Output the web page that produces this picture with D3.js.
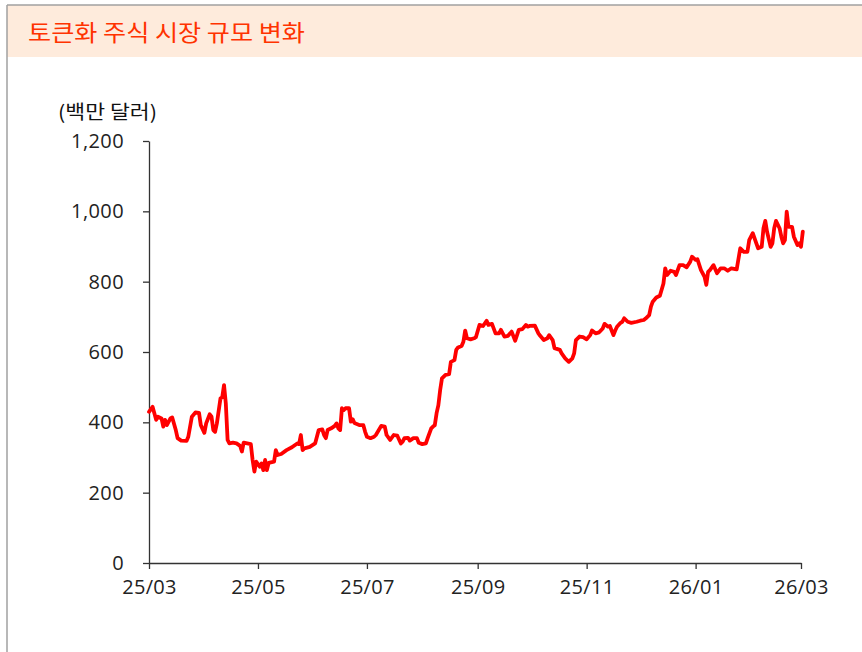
<!DOCTYPE html>
<html><head><meta charset="utf-8">
<script src="https://cdn.jsdelivr.net/npm/d3@7"></script>
<style>
html,body{margin:0;padding:0;background:#fff;}
svg{display:block;}
</style></head>
<body>
<svg id="chart" width="862" height="652"></svg>
<script>
const title = "토큰화 주식 시장 규모 변화";
const unitLabel = "(백만 달러)";
const yTicks = [0, 200, 400, 600, 800, 1000, 1200];
const xTickDates = ["2025-03-01","2025-05-01","2025-07-01","2025-09-01","2025-11-01","2026-01-01","2026-03-01"];
const dates = [
"2025-03-01","2025-03-03","2025-03-04","2025-03-05","2025-03-06","2025-03-08","2025-03-09","2025-03-10","2025-03-11","2025-03-13",
"2025-03-14","2025-03-16","2025-03-17","2025-03-19","2025-03-22","2025-03-23","2025-03-25","2025-03-27","2025-03-29","2025-03-30",
"2025-04-01","2025-04-02","2025-04-04","2025-04-05","2025-04-06","2025-04-07","2025-04-08","2025-04-10","2025-04-11","2025-04-12",
"2025-04-13","2025-04-14","2025-04-15","2025-04-17","2025-04-19","2025-04-21","2025-04-22","2025-04-23","2025-04-25","2025-04-27",
"2025-04-28","2025-04-29","2025-04-30","2025-05-02","2025-05-03","2025-05-04","2025-05-05","2025-05-06","2025-05-07","2025-05-10",
"2025-05-11","2025-05-12","2025-05-14","2025-05-17","2025-05-20","2025-05-23","2025-05-24","2025-05-25","2025-05-26","2025-05-27",
"2025-05-30","2025-06-02","2025-06-04","2025-06-06","2025-06-07","2025-06-08","2025-06-09","2025-06-11","2025-06-13","2025-06-14",
"2025-06-15","2025-06-16","2025-06-17","2025-06-18","2025-06-19","2025-06-21","2025-06-22","2025-06-23","2025-06-24","2025-06-27",
"2025-06-29","2025-06-30","2025-07-01","2025-07-03","2025-07-05","2025-07-06","2025-07-09","2025-07-11","2025-07-12","2025-07-14",
"2025-07-16","2025-07-18","2025-07-20","2025-07-21","2025-07-22","2025-07-24","2025-07-25","2025-07-27","2025-07-29","2025-07-30",
"2025-08-01","2025-08-03","2025-08-04","2025-08-06","2025-08-07","2025-08-08","2025-08-09","2025-08-10","2025-08-11","2025-08-12",
"2025-08-14","2025-08-16","2025-08-17","2025-08-19","2025-08-20","2025-08-21","2025-08-23","2025-08-24","2025-08-25","2025-08-26",
"2025-08-28","2025-08-30","2025-08-31","2025-09-02","2025-09-04","2025-09-06","2025-09-07","2025-09-09","2025-09-11","2025-09-13",
"2025-09-14","2025-09-16","2025-09-18","2025-09-20","2025-09-22","2025-09-24","2025-09-26","2025-09-28","2025-09-29","2025-09-30",
"2025-10-03","2025-10-05","2025-10-06","2025-10-08","2025-10-10","2025-10-11","2025-10-13","2025-10-14","2025-10-17","2025-10-18",
"2025-10-20","2025-10-22","2025-10-24","2025-10-25","2025-10-26","2025-10-28","2025-10-30","2025-11-01","2025-11-03","2025-11-04",
"2025-11-06","2025-11-08","2025-11-10","2025-11-11","2025-11-13","2025-11-14","2025-11-16","2025-11-17","2025-11-18","2025-11-20",
"2025-11-21","2025-11-22","2025-11-24","2025-11-26","2025-11-29","2025-12-01","2025-12-03","2025-12-04","2025-12-06","2025-12-07",
"2025-12-08","2025-12-10","2025-12-12","2025-12-14","2025-12-15","2025-12-16","2025-12-18","2025-12-20","2025-12-21","2025-12-23",
"2025-12-25","2025-12-27","2025-12-29","2025-12-30","2026-01-01","2026-01-02","2026-01-04","2026-01-06","2026-01-07","2026-01-08",
"2026-01-09","2026-01-11","2026-01-13","2026-01-15","2026-01-17","2026-01-19","2026-01-21","2026-01-24","2026-01-26","2026-01-28",
"2026-01-30","2026-01-31","2026-02-02","2026-02-04","2026-02-05","2026-02-07","2026-02-08","2026-02-09","2026-02-10","2026-02-12",
"2026-02-13","2026-02-14","2026-02-15","2026-02-17","2026-02-18","2026-02-19","2026-02-20","2026-02-21","2026-02-22","2026-02-24",
"2026-02-25","2026-02-27","2026-02-28","2026-03-01","2026-03-02"
];
const values = [
430,444,426,407,416,411,388,407,392,411,
414,378,355,348,347,359,416,428,427,392,
370,397,423,416,378,373,397,468,471,506,
454,350,340,342,340,333,317,342,340,338,
293,260,288,274,283,264,293,264,285,288,
321,307,310,321,329,340,338,364,321,326,
330,340,378,380,364,355,378,383,390,397,
383,378,440,435,440,440,402,409,398,392,
392,373,359,355,359,364,390,388,364,350,
364,362,340,345,355,356,348,355,355,342,
338,340,355,383,388,392,426,449,492,525,
535,537,572,577,606,613,617,629,661,639,
636,639,642,677,674,689,677,680,653,653,
663,644,646,658,632,663,665,677,672,674,
675,653,646,634,639,648,634,611,606,596,
582,572,582,596,634,644,642,636,648,661,
653,656,667,680,672,674,648,661,672,683,
686,696,686,683,686,689,691,695,705,729,
743,755,760,795,838,819,831,828,819,847,
847,841,857,871,862,864,833,814,791,828,
833,847,824,838,838,831,838,835,895,885,
885,918,938,909,895,899,952,973,942,899,
909,952,973,952,928,909,918,999,956,956,
928,904,909,899,942
];

const parse = d3.timeParse("%Y-%m-%d");
const data = dates.map((d, i) => ({date: parse(d), value: values[i]}));

const svg = d3.select("#chart");

// frame
svg.append("rect").attr("x", 7).attr("y", 5).attr("width", 862).attr("height", 52).attr("fill", "#FEEBDC");
svg.append("line").attr("x1", 7).attr("x2", 862).attr("y1", 5).attr("y2", 5).attr("stroke", "#A0A0A0").attr("stroke-width", 1.5);
svg.append("line").attr("x1", 7).attr("x2", 7).attr("y1", 5).attr("y2", 652).attr("stroke", "#A0A0A0").attr("stroke-width", 1.5);

svg.append("text").attr("x", 28).attr("y", 41)
  .attr("font-family", "'Noto Sans CJK KR', sans-serif").attr("font-size", 23)
  .attr("textLength", 277).attr("lengthAdjust", "spacingAndGlyphs")
  .attr("fill", "#FF3300").text(title);

svg.append("text").attr("x", 58).attr("y", 119)
  .attr("font-family", "'Noto Sans CJK KR', sans-serif").attr("font-size", 19)
  .attr("textLength", 99).attr("lengthAdjust", "spacingAndGlyphs")
  .attr("fill", "#111").text(unitLabel);

const x = d3.scaleTime().domain([parse(xTickDates[0]), parse(xTickDates[xTickDates.length - 1])]).range([149, 801]);
const y = d3.scaleLinear().domain([0, 1200]).range([563, 141]);

const fontFam = "'Open Sans', 'Noto Sans', sans-serif";

const yAxis = svg.append("g").attr("transform", "translate(149,0)")
  .call(d3.axisLeft(y).tickValues(yTicks).tickFormat(d3.format(",")).tickSize(6).tickSizeOuter(0).tickPadding(19));
yAxis.select(".domain").attr("stroke", "#333").attr("stroke-width", 1.3);
yAxis.selectAll(".tick line").attr("stroke", "#333").attr("stroke-width", 1.3);
yAxis.selectAll(".tick text").attr("font-family", fontFam).attr("font-size", 20).attr("fill", "#222").attr("letter-spacing", "0.4px");

const xAxis = svg.append("g").attr("transform", "translate(0,563)")
  .call(d3.axisBottom(x).tickValues(xTickDates.map(parse)).tickFormat(d3.timeFormat("%y/%m")).tickSize(6).tickSizeOuter(0).tickPadding(11));
xAxis.select(".domain").attr("stroke", "#333").attr("stroke-width", 1.3);
xAxis.selectAll(".tick line").attr("stroke", "#333").attr("stroke-width", 1.3);
xAxis.selectAll(".tick text").attr("font-family", fontFam).attr("font-size", 20).attr("fill", "#222").attr("letter-spacing", "0.3px");

const line = d3.line().x(d => x(d.date)).y(d => y(d.value));
svg.append("path").datum(data).attr("d", line)
  .attr("fill", "none").attr("stroke", "#FF0000").attr("stroke-width", 3.8)
  .attr("stroke-linejoin", "round").attr("stroke-linecap", "round");
</script>
</body></html>
